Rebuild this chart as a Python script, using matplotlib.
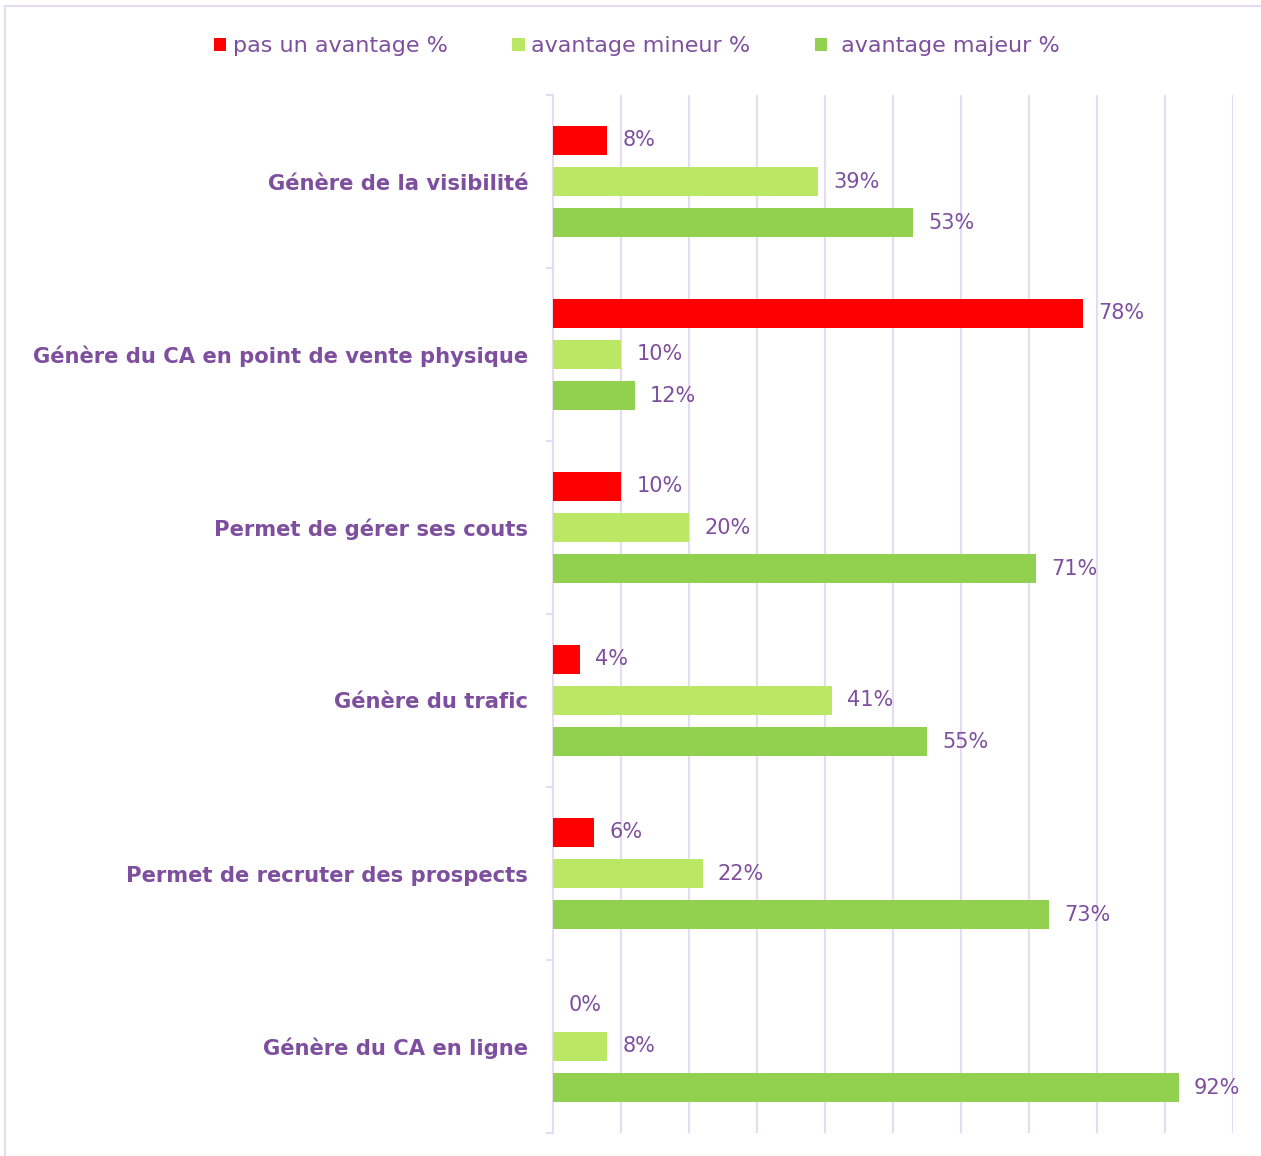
import numpy as np
import matplotlib.pyplot as plt
from matplotlib.patches import Rectangle

categories = ["Génère de la visibilité",
              "Génère du CA en point de vente physique",
              "Permet de gérer ses couts",
              "Génère du trafic",
              "Permet de recruter des prospects",
              "Génère du CA en ligne"]
pas_avantage = [8, 78, 10, 4, 6, 0]
avantage_mineur = [39, 10, 20, 41, 22, 8]
avantage_majeur = [53, 12, 71, 55, 73, 92]
series_names = ["pas un avantage %", "avantage mineur %", " avantage majeur %"]
colors = ["#FF0000", "#BBE864", "#92D050"]

purple = "#7E4F9E"
lav = "#E6DAF5"
plt.rcParams['font.family'] = ['DejaVu Sans']

fig = plt.figure(figsize=[12.61, 11.56], dpi=100)
# chart frame, only the top and left edges are inside the picture
fig.patches.append(Rectangle((5 / 1261, -0.1), 1.2, 1 - 6 / 1156 + 0.1,
                             transform=fig.transFigure, fill=False,
                             edgecolor=lav, linewidth=1.5))
ax = fig.add_axes([553 / 1261, 1 - 1133 / 1156, 680 / 1261, 1038 / 1156])

y = np.arange(len(categories))
h = 0.173
off = 0.237
allvals = [pas_avantage, avantage_mineur, avantage_majeur]
for i, vals in enumerate(allvals):
    bars = ax.barh(y + (i - 1) * off, vals, height=h, color=colors[i],
                   label=series_names[i], zorder=3)
    for b, v in zip(bars, vals):
        ax.annotate(str(v) + "%", (v, b.get_y() + h / 2), xytext=(11, 0),
                    textcoords="offset points", va="center", ha="left",
                    fontsize=15, color=purple)

ax.set_xlim(0, 100)
ax.set_ylim(len(categories) - 0.5, -0.5)
ax.set_xticks(np.arange(10, 101, 10))
ax.tick_params(axis='x', length=0, labelbottom=False)
ax.grid(axis='x', color=lav, linewidth=1.5, zorder=0)

ax.set_yticks(y)
ax.set_yticklabels(categories, fontsize=15.2, fontweight='bold', color=purple)
ax.tick_params(axis='y', length=0, pad=18)
ax.set_yticks(np.arange(-0.5, len(categories)), minor=True)
ax.tick_params(axis='y', which='minor', length=5, color=lav, width=1.5)

for s in ['top', 'right', 'bottom']:
    ax.spines[s].set_visible(False)
ax.spines['left'].set_color(lav)
ax.spines['left'].set_linewidth(1.5)

leg = fig.legend(loc='upper center', bbox_to_anchor=(0.505, 0.986), ncol=3,
                 frameon=False, fontsize=16, handlelength=0.55,
                 handleheight=0.55, handletextpad=0.3, columnspacing=2.9)
for t in leg.get_texts():
    t.set_color(purple)

plt.savefig("out.png", dpi=100)
plt.close()
